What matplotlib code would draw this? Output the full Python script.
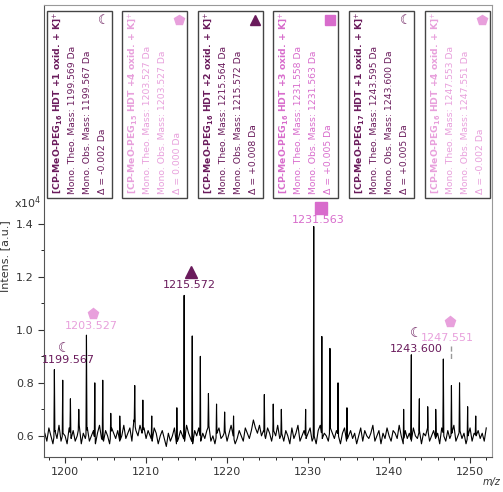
import matplotlib
matplotlib.use("Agg")
import matplotlib.pyplot as plt
import numpy as np

# baseline samples (m/z step 0.25 from 1197.5) in x10^4
base_start, base_step = 1197.5, 0.25
base_int = [
0.61,0.58,0.63,0.60,0.57,0.62,0.59,0.64,0.58,0.61,0.60,0.57,0.63,0.59,0.62,0.58,
0.60,0.64,0.57,0.61,0.59,0.63,0.58,0.60,0.62,0.57,0.61,0.64,0.59,0.58,0.62,0.60,
0.57,0.63,0.61,0.59,0.62,0.58,0.60,0.64,0.59,0.61,0.63,0.58,0.66,0.62,0.60,0.64,
0.61,0.63,0.59,0.62,0.60,0.58,0.63,0.61,0.57,0.60,0.62,0.59,0.56,0.61,0.58,0.60,
0.63,0.57,0.59,0.62,0.60,0.58,0.64,0.61,0.59,0.57,0.62,0.60,0.63,0.58,0.61,0.59,
0.62,0.64,0.58,0.60,0.57,0.61,0.63,0.59,0.60,0.62,0.58,0.61,0.64,0.60,0.57,0.59,
0.62,0.60,0.58,0.63,0.61,0.59,0.62,0.66,0.63,0.61,0.64,0.60,0.62,0.59,0.63,0.61,
0.58,0.62,0.60,0.64,0.59,0.61,0.58,0.62,0.60,0.57,0.63,0.59,0.61,0.64,0.58,0.60,
0.62,0.59,0.61,0.63,0.58,0.60,0.57,0.62,0.64,0.59,0.61,0.60,0.58,0.63,0.61,0.59,
0.62,0.60,0.57,0.61,0.63,0.58,0.60,0.62,0.59,0.61,0.57,0.60,0.63,0.58,0.62,0.60,
0.59,0.61,0.64,0.58,0.60,0.62,0.57,0.61,0.59,0.63,0.60,0.58,0.62,0.61,0.59,0.64,
0.60,0.57,0.62,0.59,0.61,0.58,0.63,0.60,0.59,0.62,0.57,0.61,0.60,0.63,0.58,0.60,
0.62,0.59,0.61,0.57,0.63,0.60,0.58,0.62,0.59,0.61,0.64,0.58,0.60,0.62,0.59,0.61,
0.57,0.60,0.63,0.58,0.61,0.60,0.62,0.59,0.61,0.58,0.63]

peak_mz = [1198.68,1199.71,1200.66,1201.69,1202.64,1203.67,1204.65,1205.64,1206.75,
           1208.60,1209.60,1210.70,1213.80,1214.70,1215.70,1216.70,1217.70,1218.70,
           1219.70,1220.80,1224.60,1225.70,1226.70,1229.70,1230.70,1231.70,1232.70,
           1233.70,1234.80,1241.80,1242.75,1243.74,1244.77,1245.76,1246.70,1247.70,
           1248.70,1249.70,1250.70]
peak_int = [0.85,0.81,0.74,0.70,0.98,0.80,0.81,0.685,0.675,
            0.79,0.735,0.675,0.706,1.13,0.977,0.90,0.76,0.72,
            0.69,0.675,0.756,0.72,0.70,0.70,1.39,0.975,0.93,
            0.80,0.706,0.70,0.906,0.74,0.71,0.70,0.89,0.79,
            0.80,0.71,0.675]

dark = "#6a1b5c"
light = "#e8a0dc"
mid = "#d86ccc"

titles = [("16", "+1"), ("15", "+4"), ("16", "+2"), ("16", "+3"), ("17", "+1"), ("16", "+4")]
theo = ["1199.569", "1203.527", "1215.564", "1231.558", "1243.595", "1247.553"]
obs = ["1199.567", "1203.527", "1215.572", "1231.563", "1243.600", "1247.551"]
delta = ["-0.002", "0.000", "+0.008", "+0.005", "+0.005", "-0.002"]
box_colors = [dark, light, dark, mid, dark, light]
box_marks = ["moon", "p", "^", "s", "moon", "p"]

lab_x = [1200.4, 1203.25, 1215.3, 1231.26, 1243.33, 1247.2]
lab_y = [0.885, 1.015, 1.17, 1.416, 0.929, 0.97]
mk_x = [1199.9, 1203.46, 1215.6, 1231.55, 1243.4, 1247.5]
mk_y = [0.93, 1.06, 1.22, 1.46, 0.99, 1.03]

base_mz = base_start + base_step * np.arange(len(base_int))
mz = np.concatenate([base_mz, peak_mz, np.array(peak_mz) - 0.06, np.array(peak_mz) + 0.06])
it = np.concatenate([base_int, peak_int,
                     np.interp(np.array(peak_mz) - 0.06, base_mz, base_int),
                     np.interp(np.array(peak_mz) + 0.06, base_mz, base_int)])
o = np.argsort(mz)

fig = plt.figure(figsize=(5.03, 4.92), dpi=100)
ax = fig.add_axes([0.0875, 0.071, 0.8905, 0.919])
ax.plot(mz[o], it[o], color="black", lw=0.8)
ax.set_xlim(1197.4, 1252.7)
ax.set_ylim(0.52, 2.226)
ax.set_xticks([1200, 1210, 1220, 1230, 1240, 1250])
ax.set_xticks(np.arange(1198, 1253, 2), minor=True)
ax.set_yticks([0.6, 0.8, 1.0, 1.2, 1.4])
ax.set_yticklabels(["0.6", "0.8", "1.0", "1.2", "1.4"])
ax.set_yticks([0.7, 0.9, 1.1, 1.3], minor=True)
ax.tick_params(labelsize=8, colors="#333333", length=4)
ax.tick_params(which="minor", length=2)
for s in ["top", "right"]:
    ax.spines[s].set_color("#999999")
for s in ["left", "bottom"]:
    ax.spines[s].set_color("#555555")
ax.set_ylabel("Intens. [a.u.]", fontsize=8, color="#333333")
ax.yaxis.set_label_coords(-0.075, 1.28, transform=ax.get_yaxis_transform())
ax.text(-0.005, 1.48, "x10$^4$", fontsize=8, transform=ax.get_yaxis_transform(), ha="right", va="center", color="#333333")
ax.text(1.0, -0.045, "m/z", fontsize=7, style="italic", transform=ax.transAxes, ha="center", va="top", color="#333333")

def moon(x, y, c, size=10):
    ax.text(x, y, "\u263E", color=c, fontsize=size, ha="center", va="center", fontweight="bold")

for i in range(6):
    c = box_colors[i]
    ax.text(lab_x[i], lab_y[i], obs[i], color=c, fontsize=8, ha="center", va="center")
    if box_marks[i] == "moon":
        moon(mk_x[i], mk_y[i], dark)
    else:
        ax.plot(mk_x[i], mk_y[i], marker=box_marks[i], color=c, ms=8, ls="none")
ax.plot([1247.65, 1247.65], [0.94, 0.89], ls="--", color="#999999", lw=1)

# annotation boxes
W, H = 503, 492
box_left = [47, 122, 198, 273, 349, 425]
bw, btop, bbot = 65, 11, 198
for i in range(6):
    c = box_colors[i]
    x0 = box_left[i]
    r = plt.Rectangle((x0 / W, 1 - bbot / H), bw / W, (bbot - btop) / H, transform=fig.transFigure,
                      fill=True, facecolor="white", edgecolor="#444444", lw=1.0, zorder=5)
    fig.add_artist(r)
    sub, ox = titles[i]
    lines = [r"[CP-MeO-PEG$_{\mathbf{" + sub + r"}}$ HDT " + ox + r" oxid. + K]$^{+}$",
             "Mono. Theo. Mass: " + theo[i] + " Da",
             "Mono. Obs. Mass: " + obs[i] + " Da",
             "\u0394 = " + delta[i] + " Da"]
    for j, t in enumerate(lines):
        fig.text((x0 + 11 + 14.7 * j) / W, 1 - (bbot - 4) / H, t, rotation=90, fontsize=6.7,
                 color=c, ha="center", va="bottom", zorder=6,
                 fontweight="bold" if j == 0 else "normal")
    mx, my = (x0 + bw - 8) / W, 1 - (btop + 9) / H
    if box_marks[i] == "moon":
        fig.text(mx, my, "\u263E", color=dark, fontsize=9, ha="center", va="center", zorder=6, fontweight="bold")
    else:
        fig.add_artist(plt.Line2D([mx], [my], marker=box_marks[i], color=c, ms=7,
                                  transform=fig.transFigure, zorder=6))

fig.savefig("out.png", dpi=100)
